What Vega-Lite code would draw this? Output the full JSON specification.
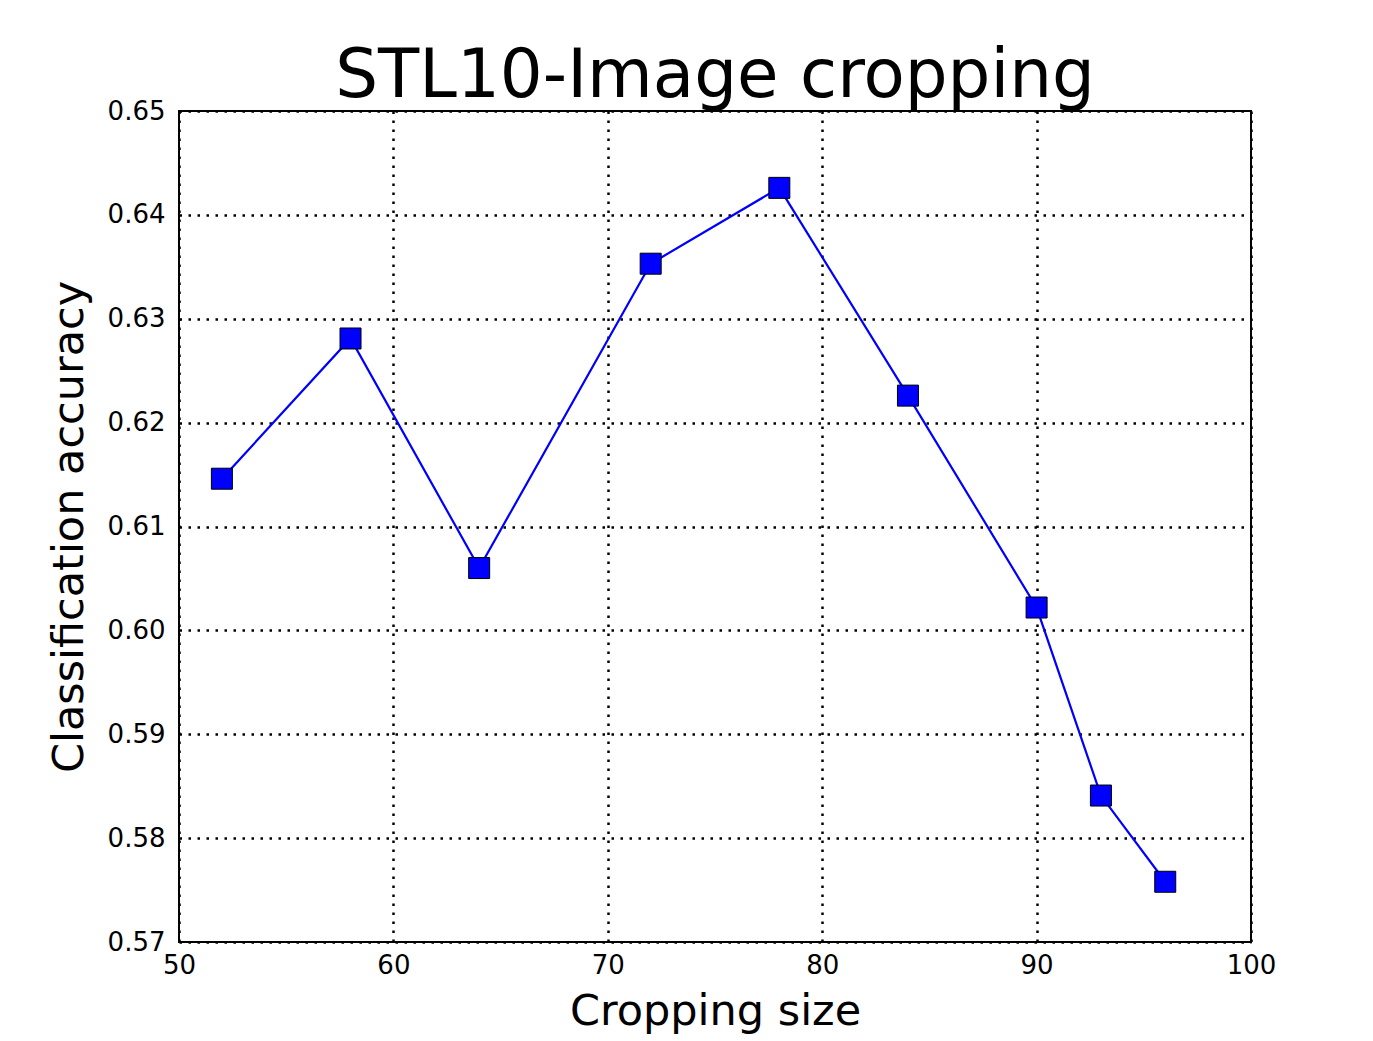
{
  "$schema": "https://vega.github.io/schema/vega-lite/v6.json",
  "width": 1072,
  "height": 831,
  "autosize": {"type": "none"},
  "padding": {"left": 179, "top": 111, "right": 122, "bottom": 99},
  "background": "white",
  "title": {"text": "STL10-Image cropping", "font": "DejaVu Sans", "fontSize": 67.5, "fontWeight": "normal", "color": "black", "anchor": "middle", "baseline": "alphabetic", "offset": -66},
  "data": {"values": [
    {"size": 52, "accuracy": 0.6146},
    {"size": 58, "accuracy": 0.6281},
    {"size": 64, "accuracy": 0.6060},
    {"size": 72, "accuracy": 0.6353},
    {"size": 78, "accuracy": 0.6426},
    {"size": 84, "accuracy": 0.6226},
    {"size": 90, "accuracy": 0.6022},
    {"size": 93, "accuracy": 0.5841},
    {"size": 96, "accuracy": 0.5758}
  ]},
  "encoding": {
    "x": {"field": "size", "type": "quantitative", "scale": {"domain": [50, 100], "nice": false, "zero": false},
      "axis": {"title": "Cropping size", "values": [50, 60, 70, 80, 90, 100], "labelPadding": 10, "titlePadding": 12}},
    "y": {"field": "accuracy", "type": "quantitative", "scale": {"domain": [0.57, 0.65], "nice": false, "zero": false},
      "axis": {"title": "Classification accuracy", "values": [0.57, 0.58, 0.59, 0.6, 0.61, 0.62, 0.63, 0.64, 0.65], "format": ".2f", "labelPadding": 14, "titlePadding": 16}}
  },
  "layer": [
    {"mark": {"type": "line", "color": "#0000ff", "strokeWidth": 2.2}},
    {"mark": {"type": "point", "shape": "square", "filled": true, "size": 441, "color": "#0000ff", "stroke": "#000000", "strokeWidth": 1, "opacity": 1}}
  ],
  "config": {
    "view": {"stroke": "black", "strokeWidth": 2},
    "axis": {"grid": true, "gridColor": "black", "gridDash": [2.5, 6.5], "gridWidth": 2.5, "gridOpacity": 1, "domain": false, "ticks": false,
      "labelFlush": false, "labelOverlap": false,
      "labelFont": "DejaVu Sans", "labelFontSize": 26, "labelColor": "black",
      "titleFont": "DejaVu Sans", "titleFontSize": 43, "titleFontWeight": "normal", "titleColor": "black"}
  }
}
